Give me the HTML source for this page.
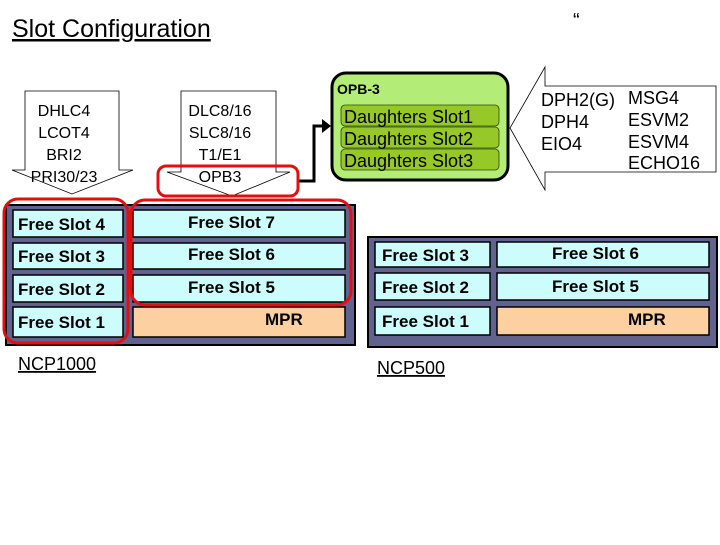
<!DOCTYPE html>
<html><head><meta charset="utf-8"><style>
body{margin:0;background:#fff}
svg text{font-family:"Liberation Sans",sans-serif}
</style></head><body>
<svg width="720" height="540" viewBox="0 0 720 540" xmlns="http://www.w3.org/2000/svg">
<text x="12" y="37" font-size="25" text-decoration="underline">Slot Configuration</text>
<text x="573" y="27" font-size="20">“</text>

<!-- left callout -->
<path d="M25,91 H119 V170 H133 L72,194 L12,170 H25 Z" fill="#fff" stroke="#000" stroke-width="0.8"/>
<g font-size="16" text-anchor="middle"><text x="64" y="116">DHLC4</text><text x="64" y="138">LCOT4</text><text x="64" y="160">BRI2</text><text x="64" y="182">PRI30/23</text></g>
<path d="M181,91 H276 V172 H290 L232,196 L167,172 H181 Z" fill="#fff" stroke="#000" stroke-width="0.8"/>
<g font-size="16" text-anchor="middle"><text x="220" y="116">DLC8/16</text><text x="220" y="138">SLC8/16</text><text x="220" y="160">T1/E1</text><text x="220" y="182">OPB3</text></g>

<!-- connector -->
<path d="M298,181 H314 V126 H324" fill="none" stroke="#000" stroke-width="3"/>
<path d="M322,119 L331,126 L322,133 Z" fill="#000"/>

<!-- OPB-3 -->
<rect x="332" y="73" width="176" height="107" rx="14" fill="#b4ec78" stroke="#000" stroke-width="3"/>
<text x="337" y="94" font-size="14" font-weight="bold">OPB-3</text>
<g fill="#96c828" stroke="#2a4a00" stroke-width="0.8">
<rect x="341" y="105" width="158" height="21" rx="4"/><rect x="341" y="127" width="158" height="21" rx="4"/><rect x="341" y="149" width="158" height="21" rx="4"/></g>
<g font-size="18"><text x="344" y="123">Daughters Slot1</text><text x="344" y="145">Daughters Slot2</text><text x="344" y="167">Daughters Slot3</text></g>

<!-- right callout -->
<path d="M545,67 V86 H716 V172 H545 V190 L510,128 Z" fill="#fff" stroke="#000" stroke-width="0.8"/>
<g font-size="18"><text x="541" y="106">DPH2(G)</text><text x="541" y="128">DPH4</text><text x="541" y="150">EIO4</text>
<text x="628" y="104">MSG4</text><text x="628" y="126">ESVM2</text><text x="628" y="148">ESVM4</text><text x="628" y="169">ECHO16</text></g>

<!-- NCP1000 -->
<rect x="6" y="205" width="349" height="140" fill="#62628f" stroke="#000" stroke-width="2"/>
<g fill="#ccfcfc" stroke="#000" stroke-width="1.5">
<rect x="13" y="210" width="110" height="27"/><rect x="13" y="243" width="110" height="26"/><rect x="13" y="275" width="110" height="27"/><rect x="13" y="307" width="110" height="30"/>
<rect x="133" y="210" width="212" height="27"/><rect x="133" y="243" width="212" height="26"/><rect x="133" y="275" width="212" height="27"/></g>
<rect x="133" y="307" width="212" height="30" fill="#fcd0a0" stroke="#000" stroke-width="1.5"/>
<g font-size="17" font-weight="bold"><text x="18" y="230">Free Slot 4</text><text x="18" y="262">Free Slot 3</text><text x="18" y="295">Free Slot 2</text><text x="18" y="328">Free Slot 1</text>
<text x="188" y="228">Free Slot 7</text><text x="188" y="260">Free Slot 6</text><text x="188" y="293">Free Slot 5</text><text x="265" y="325">MPR</text></g>

<!-- red highlights -->
<g fill="none" stroke="#e01010" stroke-width="3">
<rect x="4" y="199" width="124" height="144" rx="14"/>
<rect x="131" y="200" width="220" height="105" rx="14"/>
<rect x="158" y="166" width="140" height="30" rx="8"/></g>

<text x="18" y="370" font-size="18" text-decoration="underline">NCP1000</text>

<!-- NCP500 -->
<rect x="368" y="237" width="349" height="110" fill="#62628f" stroke="#000" stroke-width="2"/>
<g fill="#ccfcfc" stroke="#000" stroke-width="1.5">
<rect x="375" y="242" width="115" height="25"/><rect x="375" y="273" width="115" height="27"/><rect x="375" y="307" width="115" height="28"/>
<rect x="497" y="242" width="212" height="25"/><rect x="497" y="273" width="212" height="27"/></g>
<rect x="497" y="307" width="212" height="28" fill="#fcd0a0" stroke="#000" stroke-width="1.5"/>
<g font-size="17" font-weight="bold"><text x="382" y="261">Free Slot 3</text><text x="382" y="293">Free Slot 2</text><text x="382" y="327">Free Slot 1</text>
<text x="552" y="259">Free Slot 6</text><text x="552" y="292">Free Slot 5</text><text x="628" y="325">MPR</text></g>
<text x="377" y="374" font-size="18" text-decoration="underline">NCP500</text>
</svg>
</body></html>
